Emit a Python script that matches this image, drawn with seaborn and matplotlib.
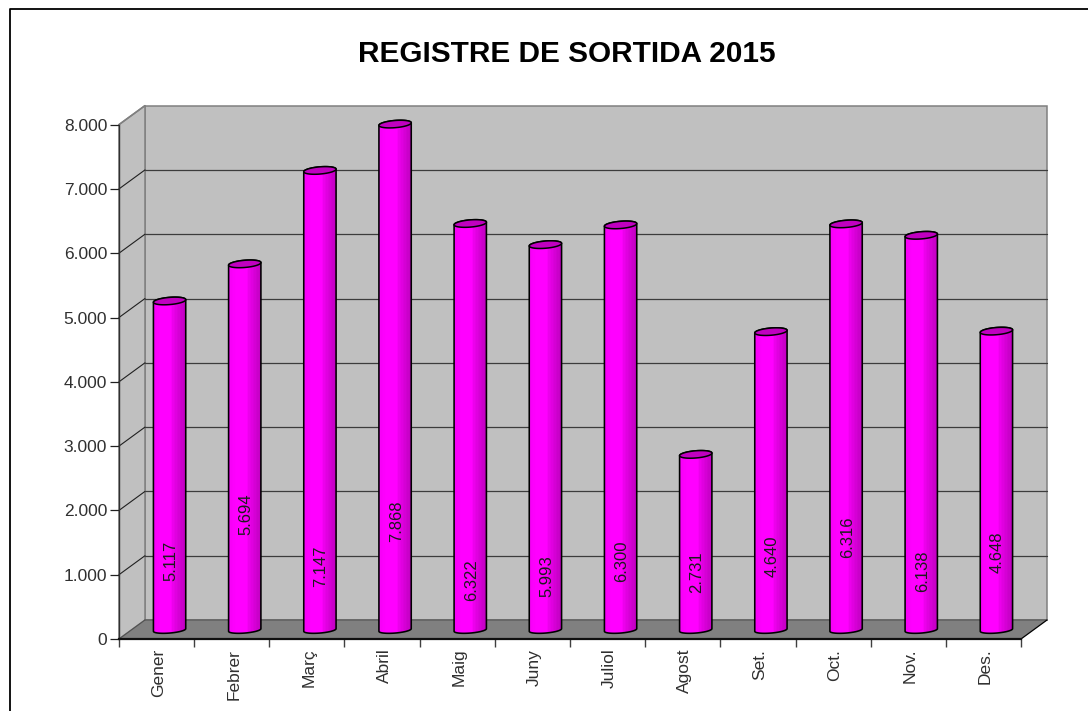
import matplotlib
matplotlib.use("Agg")
import matplotlib.pyplot as plt
from matplotlib.colors import LinearSegmentedColormap
from matplotlib.patches import Polygon
from matplotlib.transforms import ScaledTranslation
import numpy as np
import pandas as pd
import seaborn as sns

months = ["Gener", "Febrer", "Març", "Abril", "Maig", "Juny", "Juliol", "Agost", "Set.", "Oct.", "Nov.", "Des."]
values = [5117, 5694, 7147, 7868, 6322, 5993, 6300, 2731, 4640, 6316, 6138, 4648]
value_labels = ["5.117", "5.694", "7.147", "7.868", "6.322", "5.993", "6.300", "2.731", "4.640", "6.316", "6.138", "4.648"]
label_heights = [1081, 1796, 990, 1687, 778, 832, 1065, 894, 1143, 1438, 910, 1205]
y_ticks = [0, 1000, 2000, 3000, 4000, 5000, 6000, 7000, 8000]
y_tick_labels = ["0", "1.000", "2.000", "3.000", "4.000", "5.000", "6.000", "7.000", "8.000"]

W, H = 1088, 711
PX_PER_UNIT = 0.0643

sns.set_theme(style="white")
plt.rcParams["font.family"] = ["Liberation Sans", "DejaVu Sans"]

fig = plt.figure(figsize=(W / 100, H / 100), dpi=100, facecolor="white")


def add_px_axes(left, top, right, bottom):
    return fig.add_axes([left / W, 1 - bottom / H, (right - left) / W, (bottom - top) / H])


# background: frame, walls and floor in pixel coordinates
bg = add_px_axes(0, 0, W, H)
bg.set_xlim(0, W)
bg.set_ylim(H, 0)
bg.axis("off")
bg.plot([9.5, 9.5, W], [H, 8.5, 8.5], color="black", lw=1.3)

FL, BL, FR, BR = 119, 145, 1021, 1047
F0, B0 = 639, 620


def front_y(v):
    return F0 - v * PX_PER_UNIT


def back_y(v):
    return B0 - v * PX_PER_UNIT


bg.add_patch(Polygon([(BL, back_y(8000)), (BR, back_y(8000)), (BR, B0), (BL, B0)],
                     fc="#c0c0c0", ec="#808080", lw=1.1))
bg.add_patch(Polygon([(FL, front_y(8000)), (BL, back_y(8000)), (BL, B0), (FL, F0)],
                     fc="#c0c0c0", ec="#808080", lw=1.1))
bg.add_patch(Polygon([(FL, F0), (BL, B0), (BR, B0), (FR, F0)], fc="#808080", ec="none"))
bg.plot([BL, BR], [B0, B0], color="#606060", lw=1.1)
bg.plot([FR, BR], [F0, B0], color="black", lw=0.9)
for v in y_ticks[1:-1]:
    bg.plot([FL, BL], [front_y(v), back_y(v)], color="#202020", lw=0.8)
    bg.plot([BL, BR], [back_y(v), back_y(v)], color="#3c3c3c", lw=0.9)
bg.plot([FL, BL], [F0, B0], color="#505050", lw=0.8)
bg.plot([FL, BL], [front_y(8000), back_y(8000)], color="#808080", lw=1.1)

# front plane axes only carry the ticks and their labels
front = add_px_axes(FL, front_y(8000), FR, F0)
front.patch.set_visible(False)
front.set_xlim(-0.5, 11.5)
front.set_ylim(0, 8000)
for side in ["top", "right"]:
    front.spines[side].set_visible(False)
front.spines["left"].set_color("#303030")
front.spines["left"].set_linewidth(1.0)
front.spines["bottom"].set_color("#101010")
front.spines["bottom"].set_linewidth(1.6)
front.set_yticks(y_ticks)
front.set_yticklabels(y_tick_labels, fontsize=12.5, color="#303030")
front.tick_params(axis="y", length=6.5, width=0.9, color="#202020", pad=2, left=True)
front.set_xticks(np.arange(-0.5, 12, 1))
front.set_xticklabels([])
front.tick_params(axis="x", which="major", length=6, width=1.0, color="#404040", bottom=True)
front.set_xticks(np.arange(12), minor=True)
front.set_xticklabels(months, minor=True, rotation=90, fontsize=12.5, color="#303030")
front.tick_params(axis="x", which="minor", length=0, pad=7, bottom=False)
nudge = ScaledTranslation(2 / 100, 0, fig.dpi_scale_trans)
for lab in front.get_xticklabels(minor=True):
    lab.set_transform(lab.get_transform() + nudge)

# bars sit half way between the front plane and the back wall
ax = add_px_axes(FL + 13, 630 - 8000 * PX_PER_UNIT, FR + 13, 630 + 400 * PX_PER_UNIT)
ax.patch.set_visible(False)
df = pd.DataFrame({"month": months, "value": values})
sns.barplot(data=df, x="month", y="value", color="#ff00ff", saturation=1, width=0.43, ax=ax)
ax.set_xlim(-0.5, 11.5)
ax.set_ylim(-400, 8000)
ax.set_autoscale_on(False)
ax.axis("off")

cyl = LinearSegmentedColormap.from_list("cyl", [(0, "#f600f6"), (0.2, "#ff00ff"), (0.55, "#ff00ff"),
                                                (0.62, "#ec00ec"), (0.75, "#dc00dc"), (1, "#c000c0")])
shade = cyl(np.linspace(0, 1, 22))[np.newaxis, :, :]
t = np.linspace(0, 2 * np.pi, 73)
squash = 3.6 / PX_PER_UNIT
tilt = 1.3 / PX_PER_UNIT

for bar, txt, ly in zip(ax.patches, value_labels, label_heights):
    x0, w, v = bar.get_x(), bar.get_width(), bar.get_height()
    cx, a = x0 + w / 2, w / 2
    bar.set_visible(False)
    ex = cx + a * np.cos(t)
    top_y = v + squash * np.sin(t) + tilt * np.cos(t)
    # body outline: lower half of the bottom ellipse, then the upper half of the top one
    lower = t[36:73]
    upper = t[0:37]
    body = np.vstack([
        np.column_stack([cx + a * np.cos(lower), squash * 0.85 * np.sin(lower) + tilt * np.cos(lower)]),
        np.column_stack([cx + a * np.cos(upper), v + squash * np.sin(upper) + tilt * np.cos(upper)]),
    ])
    poly = Polygon(body, closed=True, fc="none", ec="black", lw=1.15, zorder=4)
    ax.add_patch(poly)
    im = ax.imshow(shade, extent=[x0, x0 + w, -300, v + 200], aspect="auto",
                   interpolation="nearest", zorder=3)
    im.set_clip_path(poly)
    ax.add_patch(Polygon(np.column_stack([ex, top_y]), closed=True, fc="#c000c0", ec="black", lw=1.1, zorder=5))
    ax.text(cx + 0.015, ly, txt, rotation=90, ha="center", va="center", fontsize=12,
            color="#1c1c1c", zorder=6)

fig.text(567 / W, 1 - 53.5 / H, "REGISTRE DE SORTIDA 2015", ha="center", va="center",
         fontsize=21.4, fontweight="bold", color="black")

fig.savefig("out.png", dpi=100)
